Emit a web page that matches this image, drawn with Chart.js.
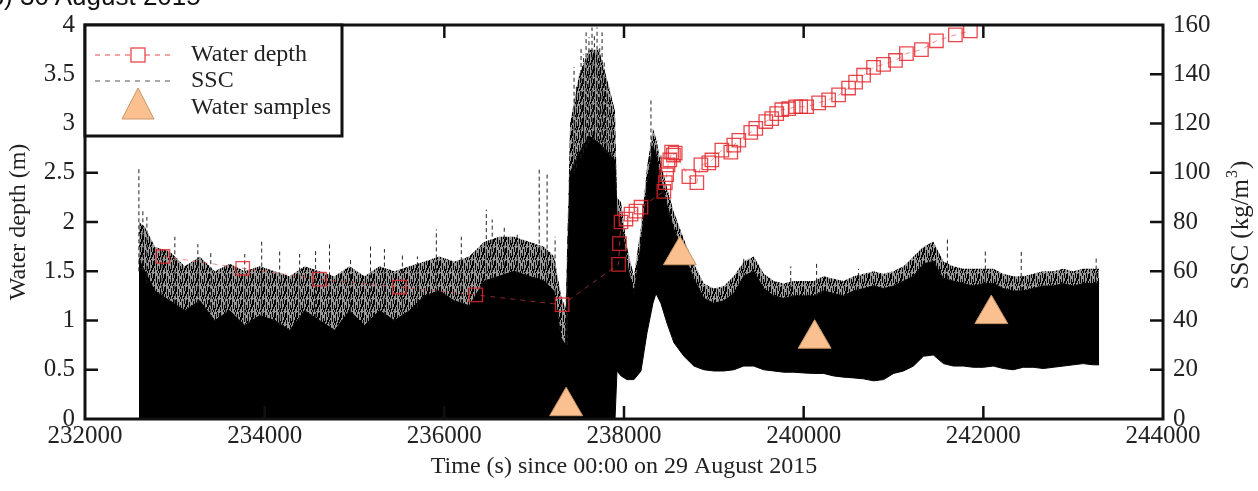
<!DOCTYPE html>
<html>
<head>
<meta charset="utf-8">
<script src="https://cdn.jsdelivr.net/npm/chart.js@4"></script>
<style>
  html, body { margin: 0; padding: 0; background: #fff; overflow: hidden; }
  #wrap { position: relative; width: 1258px; height: 491px; }
  #caption { position: absolute; left: -19px; top: -17px; font: 26px 'Liberation Sans', Arial, sans-serif; line-height: 26px; color: #111; white-space: nowrap; }
</style>
</head>
<body>
<div id="wrap">
  <canvas id="chart" width="1258" height="491"></canvas>
  <div id="caption">(b) 30 August 2015</div>
</div>
<script>
// SSC record (kg/m3): low edge, dense top, sparse top
const sscTime = [
  232600, 232667, 232778, 232944, 233111, 233278, 233444, 233611, 233778, 233944,
  234111, 234278, 234444, 234611, 234778, 234944, 235111, 235278, 235444, 235611,
  235778, 235944, 236111, 236278, 236444, 236611, 236778, 236944, 237111, 237222,
  237300, 237350, 237400, 237500, 237611, 237722, 237833, 237900,
  237922, 237967, 238033, 238111, 238189, 238256, 238322, 238356, 238411, 238478,
  238556, 238667, 238778, 238889, 239000, 239111, 239222, 239333, 239444, 239556,
  239667, 239778, 239889, 240000, 240111, 240222, 240333, 240444, 240556, 240667,
  240778, 240889, 241000, 241111, 241222, 241333, 241444, 241556, 241667, 241778,
  241889, 242000, 242111, 242222, 242333, 242444, 242556, 242667, 242778, 242889,
  243000, 243111, 243222, 243289
];
const sscLow = [
  0, 0, 0, 0, 0, 0, 0, 0, 0, 0,
  0, 0, 0, 0, 0, 0, 0, 0, 0, 0,
  0, 0, 0, 0, 0, 0, 0, 0, 0, 0,
  0, 0, 0, 0, 0, 0, 0, 0,
  19.5, 17.5, 16, 16, 19.5, 35, 47, 51, 47, 39,
  31, 25.5, 21.5, 20, 19.5, 19.5, 20, 21.5, 21.5, 20,
  19.5, 19, 19, 18.7, 18.5, 18.5, 17.5, 17, 16.7, 16.3,
  15.5, 16, 18.5, 19.5, 21.5, 25.5, 26, 22.5, 21.5, 21.5,
  21, 21, 21.5, 20.5, 20, 21, 21, 20.5, 21, 21.5,
  22, 22.5, 22, 22
];
const sscHigh = [
  65, 60, 52, 48, 44, 48, 40, 44, 38, 42,
  40, 36, 44, 40, 36, 44, 38, 44, 40, 44,
  50, 52, 48, 46, 56, 58, 60, 58, 56, 52,
  33, 30, 100, 108, 115, 112, 108, 105,
  83, 81, 63, 51, 71, 95, 111, 107, 97, 87,
  77, 67, 57, 49, 47, 48, 51, 58, 60, 53,
  50, 49, 50, 50, 50, 52, 51, 50, 52, 53,
  54, 53, 54, 56, 58, 63, 64, 57, 56, 55,
  54, 55, 55, 53, 52, 52, 53, 54, 54, 55,
  54, 55, 55, 55
];
const sscSparse = [
  80, 78, 70, 68, 62, 66, 60, 63, 60, 62,
  60, 58, 62, 60, 58, 62, 58, 62, 60, 62,
  64, 66, 64, 66, 72, 74, 74, 72, 70, 66,
  50, 45, 120, 140, 150, 150, 135, 125,
  90, 88, 70, 58, 78, 102, 118, 114, 104, 94,
  84, 73, 63, 55, 53, 54, 58, 64, 66, 59,
  56, 55, 56, 56, 56, 58, 57, 56, 58, 59,
  60, 59, 60, 62, 66, 70, 72, 64, 62, 61,
  61, 61, 61, 59, 58, 58, 59, 60, 60, 61,
  60, 61, 61, 61
];

// isolated SSC peaks (dashed spikes)
const spikeTime = [
  232600, 232644, 232689, 232856, 233000, 233256, 233400, 233567, 233778, 233967,
  234167, 234389, 234567, 234722, 234956, 235178, 235333, 235533, 235700, 235911,
  236189, 236467, 236533, 236667, 236811, 237056, 237144, 237233, 237367,
  237444, 237470, 237522, 237550, 237578, 237610, 237644, 237670, 237700, 237730,
  237756, 237780, 237811, 237840, 237867,
  238300, 238367, 238411,
  239333, 239856, 240144, 240611, 241422, 241600, 242022, 242422, 243256
];
const spikeBase = [
  60, 60, 55, 50, 47, 47, 43, 43, 40, 42,
  38, 40, 41, 38, 43, 40, 42, 42, 45, 51,
  47, 56, 57, 59, 59, 57, 55, 51, 30,
  100, 102, 106, 108, 110, 112, 115, 114, 113, 112,
  110, 109, 108, 107, 107,
  105, 107, 97,
  58, 50, 50, 52, 64, 57, 55, 52, 55
];
const spikeTop = [
  102, 85, 82, 68, 74, 71, 68, 61, 67, 72,
  68, 67, 69, 72, 65, 71, 69, 67, 66, 77,
  74, 85, 81, 78, 75, 102, 100, 74, 59,
  143, 135, 151, 148, 157, 155, 159, 156, 159, 152,
  157, 145, 137, 130, 123,
  130, 113, 107,
  65, 62, 64, 61, 70, 74, 69, 69, 66
];

// water depth (m)
const depthTime = [
  232867, 233756, 234611, 235500, 236350, 237311, 237940, 237950, 237967, 238022,
  238078, 238133, 238189, 238444, 238460, 238475, 238490, 238510, 238530, 238550,
  238570, 238722, 238811, 238856, 238944, 238978, 239089, 239189, 239222, 239278,
  239411, 239467, 239578, 239644, 239700, 239756, 239833, 239911, 239967, 240033,
  240167, 240278, 240389, 240500, 240578, 240667, 240778, 240889, 241022, 241144,
  241311, 241478, 241689, 241856
];
const depth = [
  1.65, 1.53, 1.42, 1.34, 1.26, 1.16, 1.57, 1.78, 2.00, 2.03,
  2.08, 2.11, 2.15, 2.31, 2.40, 2.48, 2.58, 2.63, 2.71, 2.68,
  2.70, 2.46, 2.40, 2.58, 2.60, 2.63, 2.73, 2.71, 2.78, 2.83,
  2.91, 2.95, 3.02, 3.05, 3.10, 3.14, 3.15, 3.17, 3.17, 3.17,
  3.21, 3.24, 3.29, 3.36, 3.42, 3.49, 3.57, 3.60, 3.64, 3.71,
  3.75, 3.84, 3.90, 3.94
];

// water samples (SSC, kg/m3)
const sampleTime = [237356, 238622, 240122, 242089];
const sampleSsc = [5.2, 66.5, 32.6, 42.6];

const xTicks = [232000, 234000, 236000, 238000, 240000, 242000, 244000];

const SERIF = "'Liberation Serif', 'Times New Roman', serif";
const TXT = '#222';
const RED = 'rgba(228, 40, 45, 0.85)';
const PEACH = '#fac08f';

const pts = (xs, ys) => xs.map((x, i) => ({ x: x, y: ys[i] }));

const spikeData = [];
spikeTime.forEach((t, i) => {
  spikeData.push({ x: t, y: spikeBase[i] }, { x: t, y: spikeTop[i] }, { x: t, y: null });
});

// hairy texture for the sparse part of the SSC trace
const hair = document.createElement('canvas');
hair.width = 11; hair.height = 13;
const hctx = hair.getContext('2d');
hctx.fillStyle = 'rgba(0,0,0,0.4)';
hctx.fillRect(0, 0, 11, 13);
hctx.fillStyle = '#000';
[[0, 0, 6], [0, 8, 4], [2, 3, 7], [3, 11, 2], [4, 0, 3], [4, 6, 5], [5, 9, 4],
 [6, 2, 8], [7, 11, 2], [8, 0, 5], [8, 8, 4], [9, 5, 5], [10, 1, 7]].forEach(d => {
  hctx.fillRect(d[0], d[1], 1, d[2]);
});
const hairPattern = hctx.createPattern(hair, 'repeat');

// frame, inward ticks, right title and boxed legend
const decor = {
  id: 'decor',
  afterDraw(chart) {
    const { ctx, chartArea: a, scales } = chart;
    const tl = 13;
    ctx.save();
    ctx.strokeStyle = '#111';
    ctx.lineWidth = 2.5;
    ctx.beginPath();
    xTicks.forEach(v => {
      const px = scales.x.getPixelForValue(v);
      if (px <= a.left + 2 || px >= a.right - 2) return;
      ctx.moveTo(px, a.bottom); ctx.lineTo(px, a.bottom - tl);
      ctx.moveTo(px, a.top); ctx.lineTo(px, a.top + tl);
    });
    scales.y.ticks.forEach(t => {
      const py = scales.y.getPixelForValue(t.value);
      if (py <= a.top + 2 || py >= a.bottom - 2) return;
      ctx.moveTo(a.left, py); ctx.lineTo(a.left + tl, py);
    });
    scales.y2.ticks.forEach(t => {
      const py = scales.y2.getPixelForValue(t.value);
      if (py <= a.top + 2 || py >= a.bottom - 2) return;
      ctx.moveTo(a.right, py); ctx.lineTo(a.right - tl, py);
    });
    ctx.stroke();
    ctx.lineWidth = 3;
    ctx.strokeRect(a.left, a.top, a.right - a.left, a.bottom - a.top);

    // right axis title, reading bottom to top, with superscript 3
    ctx.save();
    ctx.translate(1241, (a.top + a.bottom) / 2 + 4);
    ctx.rotate(-Math.PI / 2);
    ctx.fillStyle = TXT;
    ctx.textBaseline = 'middle';
    ctx.textAlign = 'left';
    const big = '25px ' + SERIF, small = '16px ' + SERIF;
    ctx.font = big;
    const w1 = ctx.measureText('SSC (kg/m').width;
    const w3 = ctx.measureText(')').width;
    ctx.font = small;
    const w2 = ctx.measureText('3').width;
    const x0 = -(w1 + w2 + w3) / 2;
    ctx.font = big;
    ctx.fillText('SSC (kg/m', x0, 0);
    ctx.font = small;
    ctx.fillText('3', x0 + w1 + 1, -8);
    ctx.font = big;
    ctx.fillText(')', x0 + w1 + w2 + 2, 0);
    ctx.restore();

    // legend box
    const bx = a.left, by = a.top, bw = 257, bh = 111;
    ctx.fillStyle = '#fff';
    ctx.fillRect(bx, by, bw, bh);
    ctx.lineWidth = 3;
    ctx.strokeStyle = '#111';
    ctx.strokeRect(bx, by, bw, bh);

    const sx0 = bx + 10, sx1 = bx + 88, sc = bx + 53;
    ctx.lineWidth = 1;
    ctx.setLineDash([5, 5]);
    ctx.strokeStyle = RED;
    ctx.beginPath(); ctx.moveTo(sx0, by + 30); ctx.lineTo(sx1, by + 30); ctx.stroke();
    ctx.strokeStyle = '#555';
    ctx.beginPath(); ctx.moveTo(sx0, by + 56); ctx.lineTo(sx1, by + 56); ctx.stroke();
    ctx.setLineDash([]);
    ctx.strokeStyle = RED;
    ctx.lineWidth = 1.3;
    ctx.fillStyle = '#fff';
    ctx.fillRect(sc - 7, by + 23, 14, 14);
    ctx.strokeRect(sc - 7, by + 23, 14, 14);

    ctx.beginPath();
    ctx.moveTo(sc, by + 63);
    ctx.lineTo(sc + 16, by + 94);
    ctx.lineTo(sc - 16, by + 94);
    ctx.closePath();
    ctx.fillStyle = PEACH;
    ctx.fill();
    ctx.strokeStyle = '#c99668';
    ctx.lineWidth = 1;
    ctx.stroke();

    ctx.fillStyle = TXT;
    ctx.font = '24px ' + SERIF;
    ctx.textAlign = 'left';
    ctx.textBaseline = 'middle';
    ctx.fillText('Water depth', bx + 106, by + 30);
    ctx.fillText('SSC', bx + 106, by + 56);
    ctx.fillText('Water samples', bx + 106, by + 83);
    ctx.restore();
  }
};

const tickFont = { family: SERIF, size: 25 };
const titleFont = { family: SERIF, size: 24 };

new Chart(document.getElementById('chart'), {
  type: 'line',
  data: {
    datasets: [
      {
        label: 'Water samples',
        data: pts(sampleTime, sampleSsc),
        yAxisID: 'y2',
        showLine: false,
        pointStyle: 'triangle',
        pointRadius: 19,
        pointBackgroundColor: PEACH,
        pointBorderColor: '#c99668',
        pointBorderWidth: 1
      },
      {
        label: 'Water depth',
        data: pts(depthTime, depth),
        yAxisID: 'y',
        borderColor: 'rgba(230, 70, 70, 0.6)',
        borderWidth: 1,
        borderDash: [5, 5],
        pointStyle: 'rect',
        pointRadius: 9.5,
        pointBackgroundColor: 'rgba(0,0,0,0)',
        pointBorderColor: RED,
        pointBorderWidth: 1.3,
        tension: 0
      },
      {
        label: 'SSC spikes',
        data: spikeData,
        yAxisID: 'y2',
        borderColor: '#222',
        borderWidth: 1,
        borderDash: [4, 3],
        pointRadius: 0,
        spanGaps: false,
        tension: 0
      },
      {
        label: 'SSC sparse',
        data: pts(sscTime, sscSparse),
        yAxisID: 'y2',
        borderWidth: 0,
        borderColor: 'rgba(0,0,0,0)',
        backgroundColor: hairPattern,
        fill: 4,
        pointRadius: 0,
        tension: 0
      },
      {
        label: 'SSC',
        data: pts(sscTime, sscHigh),
        yAxisID: 'y2',
        borderWidth: 1,
        borderColor: '#000',
        backgroundColor: '#000',
        fill: 5,
        pointRadius: 0,
        tension: 0
      },
      {
        label: 'SSC low',
        data: pts(sscTime, sscLow),
        yAxisID: 'y2',
        borderWidth: 1,
        borderColor: '#000',
        pointRadius: 0,
        fill: false,
        tension: 0
      }
    ]
  },
  options: {
    responsive: false,
    animation: false,
    layout: { padding: { top: 17, left: 0, right: 0, bottom: 0 } },
    plugins: { legend: { display: false }, tooltip: { enabled: false } },
    scales: {
      x: {
        type: 'linear',
        min: 232000,
        max: 244000,
        afterBuildTicks: s => { s.ticks = xTicks.map(v => ({ value: v })); },
        ticks: { callback: v => String(v), font: tickFont, color: TXT, padding: 2, maxRotation: 0, autoSkip: false },
        grid: { display: false, drawTicks: false },
        border: { display: false },
        title: { display: true, text: 'Time (s) since 00:00 on 29 August 2015', font: titleFont, color: TXT, padding: { top: 0, bottom: 10 } },
        afterFit: s => { s.height = 72; }
      },
      y: {
        position: 'left',
        min: 0,
        max: 4,
        ticks: { stepSize: 0.5, callback: v => String(v), font: tickFont, color: TXT, padding: 10 },
        grid: { display: false, drawTicks: false },
        border: { display: false },
        title: { display: true, text: 'Water depth (m)', font: titleFont, color: TXT, padding: { top: 4, bottom: 0 } },
        afterFit: s => { s.width = 85; }
      },
      y2: {
        position: 'right',
        min: 0,
        max: 160,
        ticks: { stepSize: 20, callback: v => String(v), font: tickFont, color: TXT, padding: 10 },
        grid: { display: false, drawTicks: false },
        border: { display: false },
        afterFit: s => { s.width = 95; }
      }
    }
  },
  plugins: [decor]
});
</script>
</body>
</html>
